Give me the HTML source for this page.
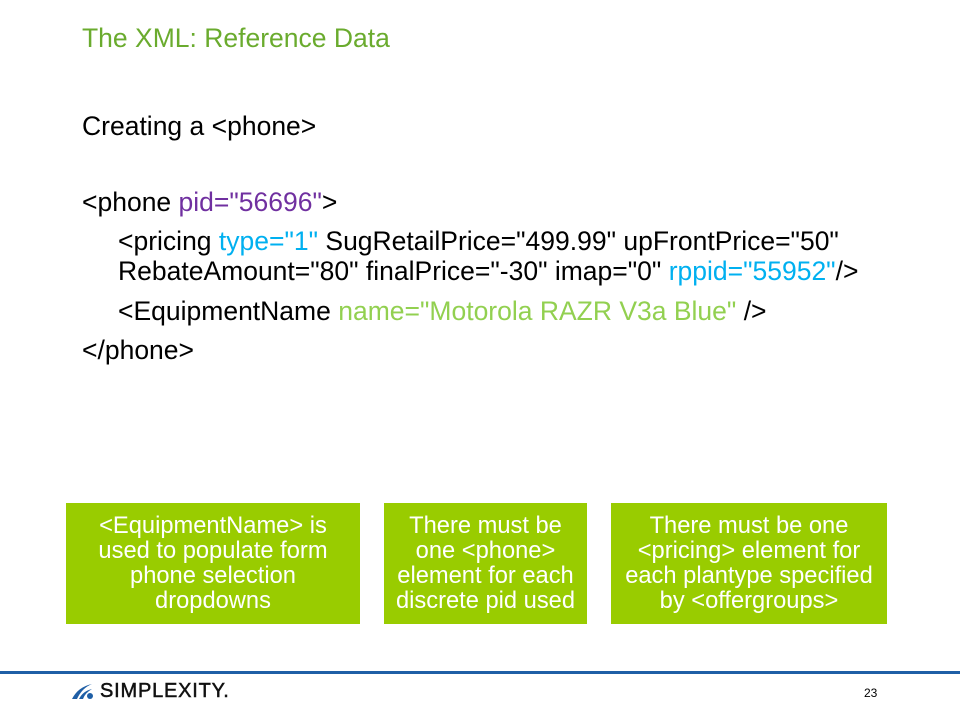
<!DOCTYPE html>
<html><head><style>
body{margin:0;width:960px;height:720px;background:#fff;position:relative;font-family:"Liberation Sans",sans-serif;overflow:hidden}
.t{position:absolute;white-space:nowrap;font-size:26.5px;color:#000;line-height:30px}
.box{position:absolute;top:503px;height:121px;background:#99cc00;color:#fff;font-size:23.7px;line-height:25px;text-align:center;display:flex;align-items:center;justify-content:center}
.p{color:#7030a0}.b{color:#00b0f0}.g{color:#92d050}
</style></head><body>
<div class="t" style="left:82px;top:23px;color:#6aab2e;font-size:26.5px">The XML: Reference Data</div>
<div class="t" style="left:82px;top:111px">Creating a &lt;phone&gt;</div>
<div class="t" style="left:82px;top:187px">&lt;phone <span class="p">pid="56696"</span>&gt;</div>
<div class="t" style="left:118px;top:226px">&lt;pricing <span class="b">type="1"</span> SugRetailPrice="499.99" upFrontPrice="50"</div>
<div class="t" style="left:118px;top:256px">RebateAmount="80" finalPrice="-30" imap="0" <span class="b">rppid="55952"</span>/&gt;</div>
<div class="t" style="left:118px;top:296px">&lt;EquipmentName <span class="g">name="Motorola RAZR V3a Blue"</span> /&gt;</div>
<div class="t" style="left:82px;top:335px">&lt;/phone&gt;</div>
<div class="box" style="left:66px;width:294px">&lt;EquipmentName&gt; is<br>used to populate form<br>phone selection<br>dropdowns</div>
<div class="box" style="left:384px;width:203px">There must be<br>one &lt;phone&gt;<br>element for each<br>discrete pid used</div>
<div class="box" style="left:611px;width:276px">There must be one<br>&lt;pricing&gt; element for<br>each plantype specified<br>by &lt;offergroups&gt;</div>
<div style="position:absolute;left:0;top:671px;width:960px;height:3px;background:#1f5fa6"></div>
<svg style="position:absolute;left:70px;top:682px" width="26" height="18" viewBox="0 0 26 18">
<path d="M2 17 Q8 5 22 2 Q12 6 7 17Z" fill="#1f5fa6"/><path d="M9 17 Q13 9 22 7 Q15 11 13 17Z" fill="#1f5fa6"/><circle cx="20" cy="14" r="3" fill="#1f5fa6"/></svg>
<div class="t" style="left:100px;top:680px;font-size:20px;line-height:22px;letter-spacing:0.8px;color:#111;-webkit-text-stroke:0.5px #111">SIMPLEXITY.</div>
<div class="t" style="left:864px;top:686px;font-size:12px;line-height:14px">23</div>
</body></html>
